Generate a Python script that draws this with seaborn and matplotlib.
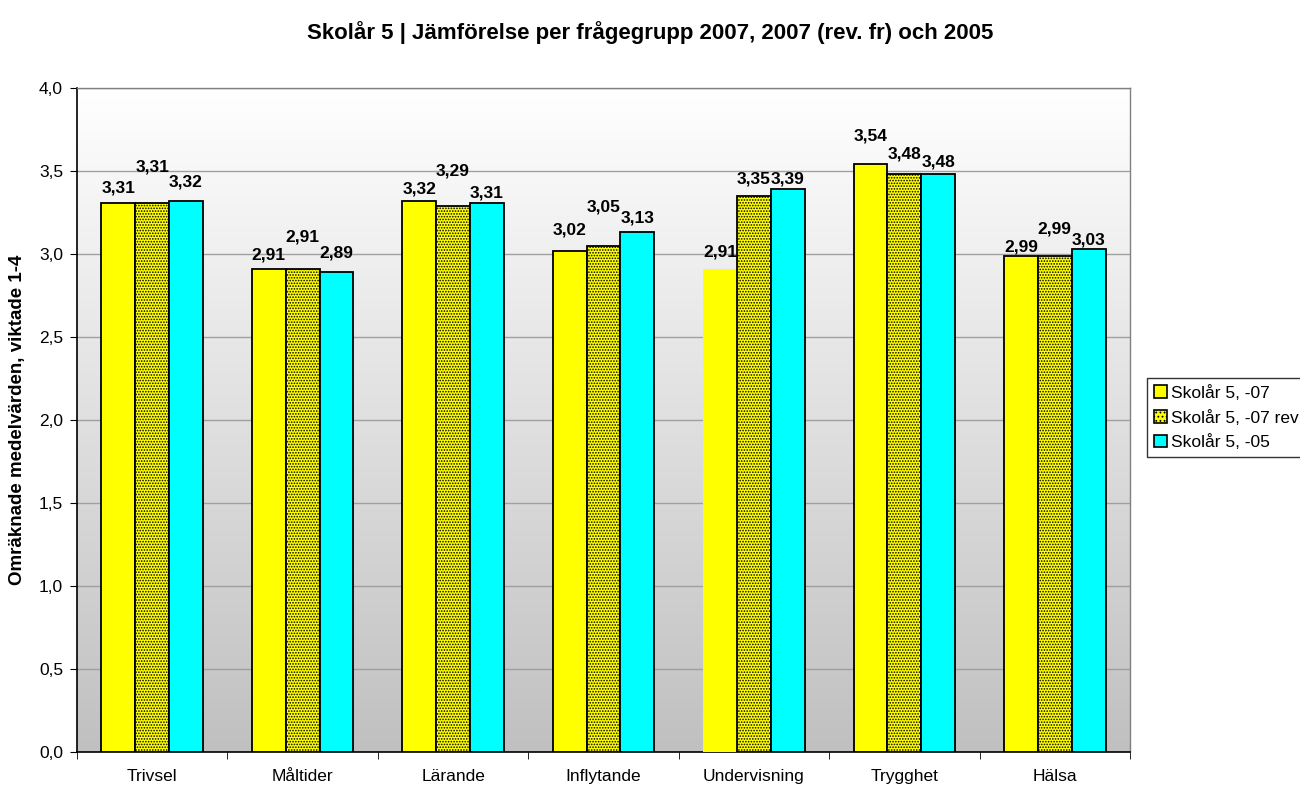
import matplotlib
matplotlib.use('Agg')
import matplotlib.pyplot as plt
from matplotlib.colors import LinearSegmentedColormap
from matplotlib.patches import Patch
import numpy as np
import pandas as pd
import seaborn as sns

categories = ["Trivsel", "Måltider", "Lärande", "Inflytande", "Undervisning", "Trygghet", "Hälsa"]
series_names = ["Skolår 5, -07", "Skolår 5, -07 rev", "Skolår 5, -05"]
vals_07 = [3.31, 2.91, 3.32, 3.02, 2.91, 3.54, 2.99]
vals_07rev = [3.31, 2.91, 3.29, 3.05, 3.35, 3.48, 2.99]
vals_05 = [3.32, 2.89, 3.31, 3.13, 3.39, 3.48, 3.03]
colors = ["#ffff00", "#ffff00", "#00ffff"]

# label offsets above bar top, in pixels (as placed in the original)
label_px = [
    [15, 14, 12, 21, 17, 28, 9],
    [36, 32, 35, 39, 17, 20, 27],
    [19, 19, 10, 14, 10, 12, 9],
]

df = pd.DataFrame({
    "grupp": categories * 3,
    "serie": [s for s in series_names for _ in categories],
    "varde": vals_07 + vals_07rev + vals_05,
})

sns.set_style("white")
plt.rcParams['font.family'] = ['Liberation Sans', 'DejaVu Sans']
plt.rcParams['hatch.linewidth'] = 0.8
for k in ['text.color', 'axes.labelcolor', 'xtick.color', 'ytick.color']:
    plt.rcParams[k] = 'black'

fig = plt.figure(figsize=(13, 7.87), dpi=100)
ax = fig.add_axes([77 / 1300, 1 - 752 / 787, (1130 - 77) / 1300, (752 - 88) / 787])

# gradient background of plot area
cmap = LinearSegmentedColormap.from_list("bg", ["#c0c0c0", "#ffffff"])
ax.imshow(np.linspace(0, 1, 256).reshape(-1, 1), cmap=cmap, origin="lower",
          extent=[0, 1, 0, 1], transform=ax.transAxes, aspect="auto", zorder=0)

sns.barplot(data=df, x="grupp", y="varde", hue="serie", palette=colors,
            saturation=1, width=0.675, edgecolor="black", linewidth=1.3,
            legend=False, ax=ax, zorder=3)

for p in ax.containers[1]:
    p.set_hatch("......")
# this bar has no outline in the original
ax.containers[0][4].set_edgecolor("none")

for i, cont in enumerate(ax.containers):
    for j, p in enumerate(cont):
        x = p.get_x() + p.get_width() / 2
        y = p.get_height()
        ax.annotate(f"{y:.2f}".replace(".", ","), (x, y),
                    xytext=(0, label_px[i][j] * 0.72), textcoords="offset points",
                    ha="center", va="center", fontsize=12.5, fontweight="bold", zorder=5)

ax.set_xlim(-0.5, len(categories) - 0.5)
ax.set_ylim(0, 4)
ax.set_yticks(np.arange(0, 4.01, 0.5))
ax.set_yticklabels([f"{v:.1f}".replace(".", ",") for v in np.arange(0, 4.01, 0.5)], fontsize=12.5)
ax.yaxis.grid(True, color="#a0a0a0", linewidth=1, zorder=1)
ax.set_axisbelow(True)

ax.set_xticks(np.arange(len(categories)))
ax.set_xticklabels(categories, fontsize=12.5)
ax.tick_params(axis="x", length=0, pad=12)
ax.set_xticks(np.arange(len(categories) + 1) - 0.5, minor=True)
ax.tick_params(axis="x", which="minor", length=5, direction="out", color="black", bottom=True)
ax.tick_params(axis="y", length=5, direction="out", color="black", left=True, pad=5)

ax.set_xlabel("")
ax.set_ylabel("Omräknade medelvärden, viktade 1-4", fontsize=13.5, fontweight="bold", labelpad=9)

for s in ["left", "bottom"]:
    ax.spines[s].set_color("black")
    ax.spines[s].set_linewidth(1.2)
for s in ["top", "right"]:
    ax.spines[s].set_color("#808080")
    ax.spines[s].set_linewidth(1)
    ax.spines[s].set_visible(True)

fig.suptitle("Skolår 5 | Jämförelse per frågegrupp 2007, 2007 (rev. fr) och 2005",
             x=0.5, y=1 - 33 / 787, va="center", fontsize=16, fontweight="bold")

handles = [
    Patch(facecolor=colors[0], edgecolor="black", linewidth=1.2),
    Patch(facecolor=colors[1], edgecolor="black", linewidth=1.2, hatch="...."),
    Patch(facecolor=colors[2], edgecolor="black", linewidth=1.2),
]
leg = fig.legend(handles, series_names, loc="upper left",
                 bbox_to_anchor=(1147 / 1300, 1 - 378 / 787), fontsize=12.5,
                 frameon=True, fancybox=False, edgecolor="black",
                 handlelength=0.75, handleheight=0.75, handletextpad=0.25,
                 labelspacing=0.5, borderpad=0.4, borderaxespad=0)
leg.get_frame().set_linewidth(1)

fig.savefig("out.png", dpi=100)
